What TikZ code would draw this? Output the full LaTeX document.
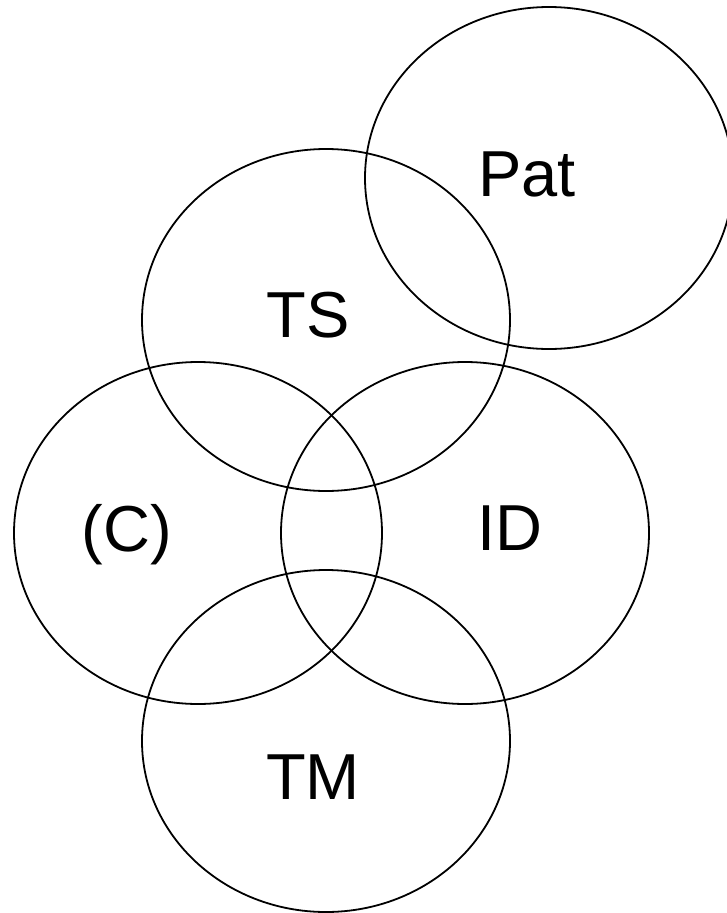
\documentclass[tikz,border=0pt]{standalone}
\usepackage{fontspec}
\setmainfont{Liberation Sans}
\usetikzlibrary{shapes.geometric}
\begin{document}
\begin{tikzpicture}[x=1pt,y=-1pt,
  venn/.style={draw=black, line width=1.8pt, ellipse, inner sep=0pt, minimum width=368pt, minimum height=342pt},
  lbl/.style={anchor=base, inner sep=0pt, font=\fontsize{65}{78}\selectfont}]
\useasboundingbox (0,0) rectangle (727,913);
\node[venn] (pat) at (549,178) {};
\node[venn] (ts) at (326,320) {};
\node[venn] (c) at (198,533) {};
\node[venn] (id) at (465,533) {};
\node[venn] (tm) at (326,741) {};
\node[lbl] (tpat) at (527,196) {Pat};
\node[lbl] (tts) at (308,337) {TS};
\node[lbl] (tc) at (127,551) {(C)};
\node[lbl] (tid) at (510,550) {ID};
\node[lbl] (ttm) at (313,799) {TM};
\end{tikzpicture}
\end{document}
